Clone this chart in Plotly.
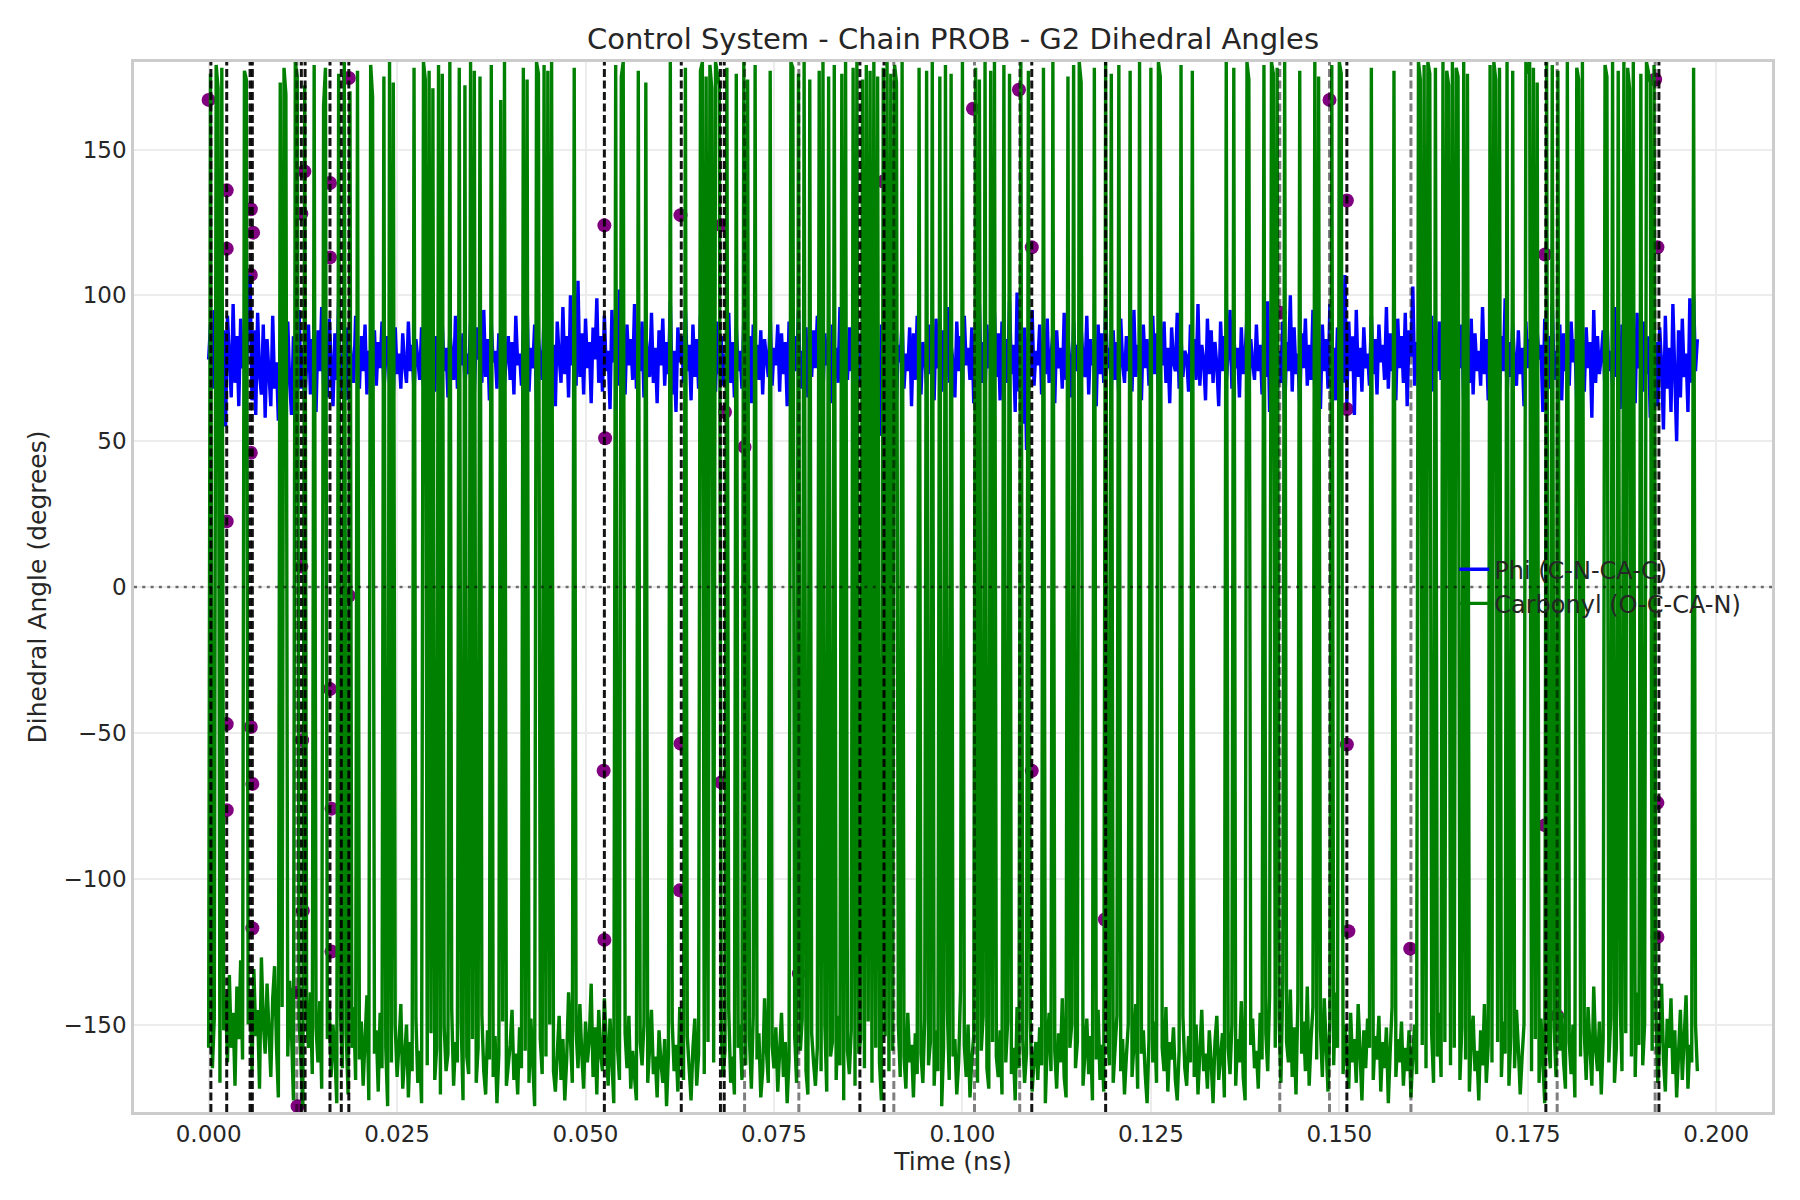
import plotly.graph_objects as go

# ---------------- data ----------------
T_START = 0.0      # ns
T_STEP = 0.00025   # ns between frames

phi = [
    78, 90, 68, 95, 84, 60, 101, 72, 88, 55, 93, 80, 65, 97, 70, 86, 62, 92, 75, 83,
    70, 96, 107, 64, 88, 59, 94, 73, 66, 90, 58, 85, 71, 62, 93, 68, 77, 57, 84, 66,
    80, 64, 91, 70, 59, 86, 74, 63, 95, 68, 82, 61, 77, 90, 66, 85, 72, 60, 88, 74,
    96, 69, 83, 65, 92, 76, 62, 87, 71, 99, 67, 80, 73, 89, 64, 84, 78, 70, 93, 75,
    68, 86, 74, 90, 66, 81, 77, 72, 88, 69, 84, 75, 91, 67, 79, 86, 70, 82, 65, 89,
    73, 80, 68, 87, 76, 70, 91, 74, 83, 66, 85, 78, 71, 89, 69, 81, 75, 92, 72, 84,
    67, 86, 77, 70, 90, 74, 82, 65, 88, 79, 71, 93, 68, 84, 76, 87, 69, 80, 73, 91,
    75, 66, 89, 78, 83, 70, 95, 72, 85, 64, 90, 77, 81, 68, 87, 74, 92, 70, 79, 86,
    71, 84, 66, 93, 76, 80, 69, 88, 73, 97, 67, 82, 75, 90, 63, 85, 78, 71, 94, 77,
    68, 89, 74, 83, 62, 91, 79, 70, 96, 73, 86, 65, 100, 76, 81, 69, 105, 72, 87, 66,
    92, 75, 84, 63, 89, 78, 99, 70, 86, 67, 93, 74, 81, 61, 95, 77, 88, 69, 102, 73,
    80, 66, 90, 76, 85, 71, 97, 68, 83, 74, 91, 65, 87, 79, 72, 94, 70, 82, 63, 88,
    76, 92, 69, 84, 73, 98, 66, 81, 60, 89, 77, 86, 70, 95, 74, 83, 64, 90, 72, 85,
    68, 93, 78, 71, 87, 62, 96, 75, 82, 67, 91, 73, 86, 69, 80, 76, 94, 70, 84, 65,
    89, 74, 81, 68, 92, 77, 70, 86, 63, 90, 75, 83, 71, 88, 66, 85, 79, 72, 93, 69,
    82, 76, 90, 67, 87, 73, 84, 62, 91, 78, 70, 86, 74, 95, 68, 81, 77, 89, 65, 83,
    72, 88, 75, 93, 69, 80, 66, 87, 76, 84, 63, 90, 73, 82, 70, 96, 67, 85, 78, 71,
    89, 74, 83, 65, 92, 77, 70, 88, 61, 94, 72, 85, 68, 99, 75, 80, 52, 90, 66, 101,
    73, 48, 86, 70, 95, 64, 83, 77, 91, 68, 80, 74, 89, 62, 87, 71, 93, 76, 66, 84,
    79, 69, 90, 73, 85, 64, 92, 75, 81, 67, 88, 72, 96, 70, 83, 77, 65, 91, 74, 86,
    68, 93, 76, 82, 71, 89, 63, 85, 78, 97, 70, 84, 66, 90, 75, 80, 69, 94, 72, 87,
    64, 91, 77, 85, 70, 98, 73, 83, 60, 101, 67, 94, 56, 89, 47, 86, 72, 95, 69, 81,
    76, 90, 66, 84, 73, 92, 70, 79, 87, 63, 88, 75, 82, 68, 94, 71, 86, 77, 65, 91,
    74, 83, 69, 89, 78, 72, 93, 66, 85, 76, 80, 62, 90, 73, 87, 70, 96, 75, 82, 68,
    88, 71, 84, 65, 92, 77, 70, 86, 74, 81, 67, 95, 72, 83, 78, 64, 90, 75, 85, 69,
    80, 93, 73, 87, 66, 84, 76, 91, 70, 82, 63, 89, 77, 74, 94, 68, 86, 72, 81, 79,
    67, 90, 75, 85, 71, 97, 69, 83, 78, 64, 92, 73, 88, 70, 84, 76, 62, 91, 74, 86,
    70, 80, 95, 68, 87, 75, 82, 65, 89, 73, 79, 93, 67, 85, 77, 71, 90, 74, 83, 66,
    88, 72, 98, 60, 86, 76, 93, 64, 81, 70, 91, 58, 84, 74, 100, 67, 89, 73, 80, 62,
    87, 75, 92, 69, 83, 71, 95, 66, 88, 77, 61, 90, 74, 85, 68, 97, 72, 82, 64, 89,
    76, 84, 70, 107, 63, 91, 74, 86, 59, 95, 72, 82, 67, 89, 75, 80, 69, 93, 73, 85,
    66, 90, 77, 83, 71, 96, 68, 87, 74, 80, 64, 92, 75, 86, 70, 94, 62, 88, 79, 103,
    69, 84, 73, 99, 65, 89, 76, 82, 70, 93, 67, 86, 74, 91, 71, 80, 61, 88, 77, 84,
    72, 95, 68, 86, 75, 90, 63, 83, 78, 70, 92, 66, 87, 74, 81, 69, 96, 73, 85, 64,
    89, 76, 80, 71, 93, 67, 86, 74, 99, 65, 84, 72, 90, 77, 69, 88, 73, 82, 62, 91,
    75, 85, 70, 94, 66, 88, 78, 83, 60, 92, 73, 86, 68, 97, 71, 81, 76, 90, 64, 87,
    74, 82, 69, 91, 77, 85, 63, 93, 72, 80, 67, 89, 75, 84, 58, 95, 70, 86, 73, 79,
    88, 66, 92, 74, 81, 69, 96, 72, 85, 61, 90, 76, 83, 68, 98, 71, 87, 63, 94, 75,
    80, 67, 91, 73, 86, 58, 95, 70, 84, 62, 89, 76, 54, 93, 68, 82, 60, 97, 71, 50,
    88, 65, 92, 72, 80, 60, 99, 70, 100, 74, 85,
]

carbonyl = [
    -158, 176, -165, -148, 179, 171, -170, 178, -152, -140, -163, -133, -158, -146, -171, -137, -155, -128, -162, 177,
    174, -150, -139, -166, -131, -154, -145, -172, -127, -149, -160, -136, -152, -168, -141, -130, -157, -175, 173, -144,
    178, 169, -161, -135, -153, -176, 180, 175, -148, -164, -178, 172, -146, -158, -139, -167, 179, -151, -163, -142,
    -172, 165, 178, -155, -143, -168, -150, -160, -177, 176, -147, -165, 180, -153, -174, 170, -158, -144, -169, 177,
    -162, -149, -171, -155, -140, -176, 179, 168, -160, -152, -173, -146, -165, 175, -158, -178, 180, -163, 173, -150,
    -168, -157, -143, -172, -161, -150, -175, -156, -166, 178, -148, -170, -159, -177, 180, 174, -164, 177, -153, 171,
    -169, -158, 179, -174, 176, -151, -166, -160, 180, -145, -171, -156, -163, 178, -149, -176, 172, -161, -167, 180,
    -155, 177, -170, -158, 175, -147, -166, -174, -152, -162, 179, -168, -154, -177, -160, 167, -149, 180, -171, -163,
    -157, -145, -169, -160, -174, -151, -165, 178, -159, 174, -170, -148, -163, -178, 180, 176, -155, -167, 179, -161,
    177, -150, 180, -166, -173, -158, -147, -169, -155, -176, -162, -139, -157, -170, 178, -152, -165, -143, -160, -172,
    -149, -163, -155, -136, -168, -151, -174, -145, -160, -166, -141, -157, -171, -148, -162, -177, 179, -158, -169, 175,
    180, -153, -165, -147, -172, -159, -168, -176, 177, -156, -164, -150, 173, -170, -158, -145, -167, -161, -175, -152,
    -163, -170, -155, -178, -160, 180, -149, -166, -157, -173, -144, -162, -169, 178, -154, -165, -176, -158, -148, -171,
    -160, 177, 180, -167, 175, -156, 179, 171, -163, 180, 176, 172, -152, -168, -159, 178, -145, -170, -161, -174,
    176, -158, -150, -169, 180, -164, 174, -155, -172, -147, 179, -162, -153, -175, -166, -141, -159, -170, 177, -157,
    -165, -151, -173, -160, -146, -168, -156, -177, -162, 180, 178, -154, -170, 176, -159, -148, 180, -166, -174, 174,
    -153, -163, -171, -158, 177, -166, 180, -150, -173, 175, -161, -156, 179, -169, -147, -164, 176, -176, 180, -159,
    -167, -152, 178, -171, 180, -160, -155, 174, -165, 179, -149, 177, -170, 180, -158, 175, -163, -176, 178, -154,
    180, -166, 176, -159, 179, 173, -150, -168, 180, -161, -172, -146, -163, -157, -175, -153, -167, 178, -160, -170,
    -148, 177, -164, -156, 180, -171, -152, -166, 175, -178, -158, 179, -145, -169, 176, -161, -155, -174, -163, -138,
    180, -157, -168, -150, -175, -162, -154, 178, -170, 174, -159, -147, 180, -165, -172, 177, -156, 180, -161, -168,
    -152, -174, 179, -163, -149, 176, -167, -158, -176, -144, -165, 180, -155, -170, -160, 177, -148, -173, -162, -156,
    -169, -151, -164, 178, -177, -157, -146, -166, 180, -159, -172, -153, -163, -141, -168, -175, 175, -158, -150, 179,
    -165, -156, 180, 173, -171, -160, -148, -167, -154, -176, 178, -162, -145, -169, -157, -173, 180, -151, -164, 176,
    -170, -158, -147, 179, -166, -155, -174, -161, -150, 177, -168, -157, -143, -172, 180, -160, -152, -167, -177, -155,
    178, -163, -149, -170, 180, 175, -158, -166, -144, -173, -156, -162, -151, -169, -176, -159, 179, -147, -165, -171,
    -154, -163, 177, -168, -150, -174, -158, -145, -166, -160, -172, -152, -163, -177, -156, -147, -169, -161, -153, -175,
    180, -158, -167, -150, 178, -171, -155, -163, -142, -168, -176, 180, 174, -157, -148, -165, -159, -172, -146, -162,
    179, -153, -166, -140, 180, 176, -158, 178, -147, -170, -135, 180, -156, -163, -138, -168, -151, -174, -142, 177,
    -160, -149, -166, -137, -171, -155, -144, 180, -162, 175, -152, -168, -141, -157, -173, -148, 179, -164, -139, -158,
    180, 176, -167, -150, -159, -172, -146, -163, -155, -170, -143, -161, -176, -152, -165, -148, -158, 178, -169, -154,
    -162, -147, -173, -156, -165, -151, -177, -159, -144, 177, -168, -155, -163, -149, -171, -158, -166, -152, -175, -160,
    -150, -167, 180, 174, -157, 179, -165, 180, 176, -153, -170, 178, -161, -146, -168, 180, -156, 177, 172, -164,
    180, -158, 178, 175, -169, -151, 180, -162, 176, -173, -155, -147, -166, -159, -176, -152, -164, -143, -170, -157,
    179, -163, 180, 174, -156, 178, -168, -149, -160, 180, -171, -154, 177, -165, -145, -158, -174, -161, -150, 180,
    176, 180, -166, 178, -155, 173, -170, -148, -162, -177, 180, -157, -165, 179, -151, -168, 177, -159, -146, -163,
    -172, 180, -156, -167, -150, -175, 178, 174, -161, 180, -153, -169, -144, -160, -171, -137, -158, -166, -149, -174,
    -155, 179, 175, -163, -148, 180, -170, -158, 177, -142, -166, 180, -153, 178, 171, -161, 180, -168, -139, -157,
    176, -164, -150, 180, 177, 173, -159, 179, -146, -170, -155, -136, -162, -173, -148, -158, -141, -167, -152, -175,
    -160, -145, -169, -154, -140, -172, -157, -163, 178, -150, -166,
]

# transition markers (time in ns, angle in degrees)
dot_t = [0.0000, 0.0024, 0.0024, 0.0024, 0.0024, 0.0024,
         0.0056, 0.0059, 0.0056, 0.0056, 0.0056, 0.0058, 0.0058,
         0.0123, 0.0127, 0.0123, 0.0124, 0.0125, 0.0117, 0.0118,
         0.0161, 0.0161, 0.0163, 0.0163, 0.0161, 0.0186, 0.0186,
         0.0525, 0.0526, 0.0524, 0.0525,
         0.0626, 0.0626, 0.0625,
         0.0680, 0.0685, 0.0680, 0.0711, 0.0783,
         0.0895, 0.0895, 0.0894, 0.0895,
         0.1014, 0.1075, 0.1092, 0.1092, 0.1189,
         0.1421, 0.1487, 0.1510, 0.1510, 0.1510, 0.1512,
         0.1594, 0.1773, 0.1773, 0.1789,
         0.1919, 0.1922, 0.1921, 0.1922, 0.1922]
dot_y = [167, 136, 116, 22.5, -47, -76.5,
         129.5, 121.5, 107, 46, -48, -67.5, -117,
         128, 142.5, 7, -52.5, -111, -139, -178,
         138.5, -35, -76, -125, 113, 174.5, -3,
         124, 51, -63, -121,
         127.5, -53.7, -104,
         124, 60, -67, 48, -132.5,
         139, 54, -27, -130,
         164, 170.5, 116.5, -63, -114,
         94, 167, 132.5, 61, -54, -118,
         -124, 114, -81.7, -147,
         174, 116.5, 78, -74, -120]

black_vlines = [0.0003, 0.0024, 0.0055, 0.0058, 0.0123, 0.0128, 0.0161, 0.0176,
                0.0186, 0.0525, 0.0627, 0.0679, 0.0684, 0.0864, 0.0896, 0.1092,
                0.1190, 0.1510, 0.1774, 0.1924]
gray_vlines = [0.0117, 0.0711, 0.0783, 0.0909, 0.1016, 0.1076, 0.1421, 0.1487,
               0.1595, 0.1789, 0.1919]

y_tickvals = [-150, -100, -50, 0, 50, 100, 150]
y_ticktext = ["\u2212150", "\u2212100", "\u221250", "0", "50", "100", "150"]
x_tickvals = [0.000, 0.025, 0.050, 0.075, 0.100, 0.125, 0.150, 0.175, 0.200]
x_ticktext = ["0.000", "0.025", "0.050", "0.075", "0.100", "0.125", "0.150", "0.175", "0.200"]

TITLE = "Control System - Chain PROB - G2 Dihedral Angles"

# ---------------- figure ----------------
FONT = "DejaVu Sans"
TXT = "#262626"

fig = go.Figure()

fig.add_trace(go.Scatter(
    x=dot_t, y=dot_y, mode="markers",
    marker=dict(color="#800080", size=14, line=dict(width=0)),
    showlegend=False, hoverinfo="skip"))

fig.add_trace(go.Scatter(
    y=phi, x0=T_START, dx=T_STEP, mode="lines",
    line=dict(color="#0000ff", width=3.4),
    name="Phi (C-N-CA-C)"))

fig.add_trace(go.Scatter(
    y=carbonyl, x0=T_START, dx=T_STEP, mode="lines",
    line=dict(color="#008000", width=3.4),
    name="Carbonyl (O-C-CA-N)"))

for t in gray_vlines:
    fig.add_vline(x=t, line=dict(color="rgba(0,0,0,0.5)", width=3, dash="8px,3.5px"),
                  layer="above")
for t in black_vlines:
    fig.add_vline(x=t, line=dict(color="rgba(0,0,0,0.92)", width=3, dash="8px,3.5px"),
                  layer="above")
fig.add_hline(y=0, line=dict(color="rgba(0,0,0,0.55)", width=2.5, dash="3px,5.3px"),
              layer="above")

fig.update_layout(
    width=1800, height=1200,
    paper_bgcolor="white", plot_bgcolor="white",
    margin=dict(l=134, r=28, t=62, b=88),
    font=dict(family=FONT, color=TXT, size=23),
    title=dict(text=TITLE, x=0.5, xref="paper", xanchor="center",
               y=1 - 39 / 1200, yref="container", yanchor="middle",
               font=dict(family=FONT, size=29, color=TXT)),
    legend=dict(x=0.806, y=0.538, xanchor="left", yanchor="top",
                bgcolor="rgba(0,0,0,0)", borderwidth=0,
                font=dict(family=FONT, size=24, color=TXT),
                tracegroupgap=0),
    showlegend=True,
)

fig.update_xaxes(
    range=[-0.0099, 0.2074],
    tickmode="array", tickvals=x_tickvals, ticktext=x_ticktext,
    tickfont=dict(family=FONT, size=23, color=TXT),
    showgrid=True, gridcolor="#ececec", gridwidth=1.6,
    zeroline=False,
    showline=True, linecolor="#cccccc", linewidth=2.5, mirror=True,
    ticks="", ticklabelstandoff=0,
    title=dict(text="Time (ns)", font=dict(family=FONT, size=25, color=TXT), standoff=6),
)
fig.update_yaxes(
    range=[-180, 180],
    tickmode="array", tickvals=y_tickvals, ticktext=y_ticktext,
    tickfont=dict(family=FONT, size=23, color=TXT),
    showgrid=True, gridcolor="#ececec", gridwidth=1.6,
    zeroline=False,
    showline=True, linecolor="#cccccc", linewidth=2.5, mirror=True,
    ticks="", ticklabelstandoff=0,
    title=dict(text="Dihedral Angle (degrees)", font=dict(family=FONT, size=25, color=TXT), standoff=10),
)

fig.write_html("out.html")
